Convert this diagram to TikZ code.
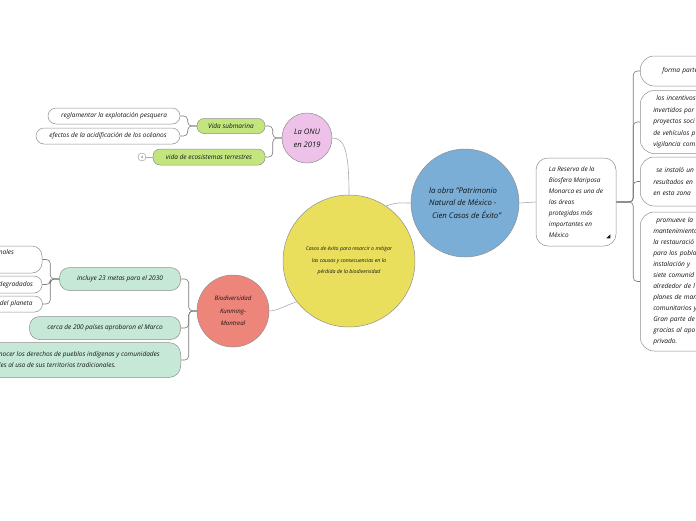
\documentclass[tikz,border=0pt]{standalone}
\usepackage{fontspec}
\setmainfont{Open Sans}
\usetikzlibrary{positioning,calc}
\definecolor{MapYellow}{HTML}{E9DF5C}
\definecolor{MapBlue}{HTML}{7AAED6}
\definecolor{MapPink}{HTML}{EEC1E8}
\definecolor{MapSalmon}{HTML}{EE857A}
\definecolor{MapLime}{HTML}{C2E57D}
\definecolor{MapMint}{HTML}{C5E9D6}
\definecolor{MapEdge}{HTML}{8F8F8F}
\definecolor{MapLink}{HTML}{A9A9A9}
\definecolor{MapStem}{HTML}{7A7A7A}
\definecolor{MapInk}{HTML}{141414}
\newcommand{\mapfont}[2]{\fontsize{#1}{#2}\selectfont\itshape}

\begin{document}
\begin{tikzpicture}[x=1pt, y=-1pt,
  topic/.style={circle, draw=MapEdge, line width=0.5pt, align=center, inner sep=0pt, text=MapInk},
  leaf/.style={rectangle, rounded corners=7, draw=MapEdge, line width=0.5pt, align=center, inner sep=0pt, text=MapInk, font=\mapfont{6.5}{11.5}},
  note/.style={leaf, rounded corners=8, fill=white},
  sidebox/.style={note, rounded corners=14, anchor=west, align=left, text width=100, inner xsep=13, font=\mapfont{6.6}{11.5}},
  link/.style={MapLink, line width=0.6pt},
  stem/.style={MapStem, line width=0.6pt, rounded corners=4}]
\useasboundingbox (0,0) rectangle (696,520);

\node[topic, fill=MapYellow, minimum size=132, font=\mapfont{5.2}{11.5}] (casos) at (349,261) {Casos de éxito para resarcir o mitigar\\las causas y consecuencias en la\\pérdida de la biodiversidad};
\node[topic, fill=MapBlue, minimum size=108, align=left, font=\mapfont{7.8}{12.5}] (obra) at (465,203) {la obra "Patrimonio\\Natural de México -\\\hspace*{3pt}Cien Casos de Éxito"};
\node[topic, fill=MapPink, minimum size=50, font=\mapfont{7.6}{13}] (onu) at (307,138) {La ONU\\en 2019};
\node[topic, fill=MapSalmon, minimum size=72, font=\mapfont{6.1}{12.5}] (bio) at (233,311) {Biodiversidad\\Kunming-\\Montreal};

\node[leaf, fill=MapLime, minimum width=68, minimum height=15] (vsub) at (231,126) {Vida submarina};
\node[leaf, fill=MapLime, minimum width=112, minimum height=16] (vterr) at (209,157) {vida de ecosistemas terrestres};
\node[note, minimum width=132, minimum height=16] (regl) at (114,116) {reglamentar la explotación pesquera};
\node[note, minimum width=144, minimum height=16] (acid) at (108,136) {efectos de la acidificación de los océanos};
\node[circle, draw=MapEdge, line width=0.4pt, fill=white, minimum size=8, inner sep=0pt, text=MapInk, font=\mapfont{3.2}{3.2}] (cnt) at (142,157) {4};

\node[leaf, fill=MapMint, rounded corners=10, minimum width=121, minimum height=23] (metas) at (120,279) {incluye 23 metas para el 2030};
\node[leaf, fill=MapMint, rounded corners=10, minimum width=151, minimum height=23] (marco) at (105,328) {cerca de 200 países aprobaron el Marco};
\node[leaf, fill=MapMint, rounded corners=12, anchor=east, align=left, inner xsep=21, minimum height=35, font=\mapfont{6.5}{11}] (dere) at (181,360) {nocer los derechos de pueblos indígenas y comunidades\\les al uso de sus territorios tradicionales.};

\node[note, rounded corners=10, align=right, text width=60, inner xsep=28, minimum height=27] (nales) at (-16,259.5) {nales\\\strut};
\node[note, align=right, text width=60, inner xsep=9, minimum height=17] (degr) at (3,284.5) {degradados};
\node[note, align=right, text width=60, inner xsep=10, minimum height=16] (planeta) at (2.5,304) {del planeta};

\node[note, rounded corners=12, align=left, minimum width=80, minimum height=88, font=\mapfont{6.4}{11}] (reserva) at (576,202) {La Reserva de la\\Biosfera Mariposa\\Monarca es una de\\las áreas\\protegidas más\\importantes en\\México};
\fill[MapInk, shift={(reserva.south east)}] (-10,-8) -- (-6,-8) -- (-6,-12) -- cycle;

\node[sidebox, inner xsep=22, minimum height=30] (forma) at (640,71) {forma parte};
\node[sidebox, minimum height=63] (incent) at (640,122) {\hspace*{3pt}los incentivos\\invertidos por\\proyectos soci\\de vehículos p\\vigilancia com};
\node[sidebox, minimum height=49] (instalo) at (640,181.5) {\hspace*{3pt}se instaló un\\resultados en\\en esta zona};
\node[sidebox, minimum height=139, font=\mapfont{6.6}{11}] (promueve) at (640,281.5) {\hspace*{3pt}promueve la\\mantenimiento\\la restauració\\para los pobla\\instalación y\\siete comunid\\alrededor de l\\planes de man\\comunitarios y\\Gran parte de\\gracias al apo\\privado.};

\draw[link] (onu.east) .. controls +(12,0) and +(0,-45) .. (casos.north);
\draw[link] (casos.56) .. controls +(10,-4) and +(-10,0) .. (obra.west);
\draw[link] (casos.218) .. controls +(-10,3) and +(8,0) .. (bio.east);
\draw[link] (obra.east) -- (reserva.west);
\draw[stem] (onu.west) -- ++(-9,0) |- (vsub.east);
\draw[stem] (onu.west) -- ++(-9,0) |- (vterr.east);
\draw[stem] (vsub.west) -- ++(-9,0) |- (regl.east);
\draw[stem] (vsub.west) -- ++(-9,0) |- (acid.east);
\draw[link] (vterr.west) -- (cnt.east);
\foreach \leafname in {metas,marco,dere}
  \draw[stem] (bio.west) -- ++(-8,0) |- (\leafname.east);
\foreach \leafname in {nales,degr,planeta}
  \draw[stem] (metas.west) -- ++(-9,0) |- (\leafname.east);
\foreach \leafname in {forma,incent,instalo,promueve}
  \draw[stem] (reserva.east) -- ++(17,0) |- (\leafname.west);
\end{tikzpicture}
\end{document}
